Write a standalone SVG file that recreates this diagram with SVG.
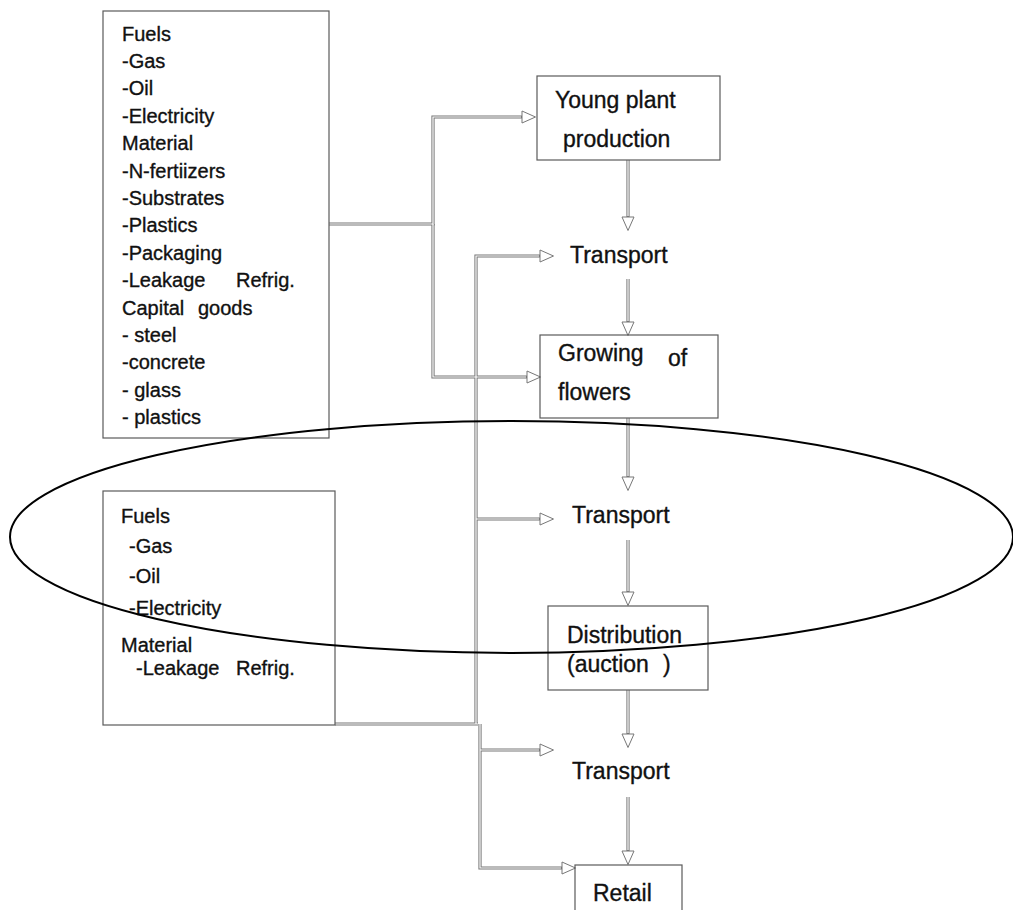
<svg xmlns="http://www.w3.org/2000/svg" width="1013" height="910" viewBox="0 0 1013 910">
<style>
.box{fill:none;stroke:#5a5a5a;stroke-width:1.2}
.t{font-family:"Liberation Sans",Arial,sans-serif;font-size:20px;fill:#111;stroke:#111;stroke-width:0.35}
.m{font-family:"Liberation Sans",Arial,sans-serif;font-size:23px;fill:#111;stroke:#111;stroke-width:0.35}
.o{fill:none;stroke:#777;stroke-width:3.2}
.i{fill:none;stroke:#fff;stroke-width:1.2}
.ah{fill:#fff;stroke:#777;stroke-width:1}
</style>
<defs>
<marker id="arr" markerUnits="userSpaceOnUse" markerWidth="16" markerHeight="14" refX="0" refY="6.5" orient="auto" overflow="visible">
<path class="ah" d="M0,0.5 L13.5,6.5 L0,12.5 Z"/>
</marker>
</defs>
<g id="connectors">
<g id="c-outer" class="o">
<path d="M329,224 H433 V117 H522" marker-end="url(#arr)"/>
<path d="M433,224 V377 H527" marker-end="url(#arr)"/>
<path d="M335,724 H478 M476,724 V256 H540" marker-end="url(#arr)"/>
<path d="M476,519 H540" marker-end="url(#arr)"/>
<path d="M480,724 V868 H562" marker-end="url(#arr)"/>
<path d="M480,750 H540" marker-end="url(#arr)"/>
<path d="M628,160 V217" marker-end="url(#arr)"/>
<path d="M628,279 V322" marker-end="url(#arr)"/>
<path d="M628,418 V477" marker-end="url(#arr)"/>
<path d="M628,540 V592" marker-end="url(#arr)"/>
<path d="M628,690 V734" marker-end="url(#arr)"/>
<path d="M628,797 V851" marker-end="url(#arr)"/>
</g>
<g id="c-inner" class="i">
<path d="M329,224 H433 V117 H521"/>
<path d="M433,224 V377 H526"/>
<path d="M335,724 H478 M476,724 V256 H539"/>
<path d="M476,519 H539"/>
<path d="M480,724 V868 H561"/>
<path d="M480,750 H539"/>
<path d="M628,160 V216"/>
<path d="M628,279 V321"/>
<path d="M628,418 V476"/>
<path d="M628,540 V591"/>
<path d="M628,690 V733"/>
<path d="M628,797 V850"/>
</g>
</g>
<g id="inputs-production">
<rect class="box" x="103" y="11" width="226" height="427"/>
<text class="t" x="122" y="40.5">Fuels</text>
<text class="t" x="122" y="67.9">-Gas</text>
<text class="t" x="122" y="95.3">-Oil</text>
<text class="t" x="122" y="122.7">-Electricity</text>
<text class="t" x="122" y="150.1">Material</text>
<text class="t" x="122" y="177.5">-N-fertiizers</text>
<text class="t" x="122" y="204.9">-Substrates</text>
<text class="t" x="122" y="232.3">-Plastics</text>
<text class="t" x="122" y="259.7">-Packaging</text>
<text class="t" x="122" y="287.1">-Leakage<tspan x="236">Refrig.</tspan></text>
<text class="t" x="122" y="314.5">Capital<tspan x="198">goods</tspan></text>
<text class="t" x="122" y="341.9">- steel</text>
<text class="t" x="122" y="369.3">-concrete</text>
<text class="t" x="122" y="396.7">- glass</text>
<text class="t" x="122" y="424.1">- plastics</text>
</g>
<g id="inputs-distribution">
<rect class="box" x="103" y="491" width="232" height="234"/>
<text class="t" x="121" y="523">Fuels</text>
<text class="t" x="129" y="553">-Gas</text>
<text class="t" x="129" y="583">-Oil</text>
<text class="t" x="129" y="615">-Electricity</text>
<text class="t" x="121" y="652">Material</text>
<text class="t" x="136" y="675">-Leakage<tspan x="236">Refrig.</tspan></text>
</g>
<g id="young-plant">
<rect class="box" x="537" y="76" width="183" height="84"/>
<text class="m" x="555" y="108">Young plant</text>
<text class="m" x="563" y="147">production</text>
</g>
<g id="transport1">
<text class="m" x="570" y="263">Transport</text>
</g>
<g id="growing">
<rect class="box" x="540" y="335" width="178" height="83"/>
<text class="m" x="558" y="361">Growing</text>
<text class="m" x="668" y="366">of</text>
<text class="m" x="558" y="400">flowers</text>
</g>
<g id="transport2">
<text class="m" x="572" y="523">Transport</text>
</g>
<g id="distribution">
<rect class="box" x="548" y="606" width="160" height="84"/>
<text class="m" x="567" y="643">Distribution</text>
<text class="m" x="567" y="672">(auction<tspan x="663">)</tspan></text>
</g>
<g id="transport3">
<text class="m" x="572" y="779">Transport</text>
</g>
<g id="retail">
<rect class="box" x="575" y="865" width="107" height="60"/>
<text class="m" x="593" y="901">Retail</text>
</g>
<g id="highlight">
<ellipse cx="511.5" cy="537" rx="501.5" ry="116" fill="none" stroke="#000" stroke-width="2"/>
</g>
</svg>
